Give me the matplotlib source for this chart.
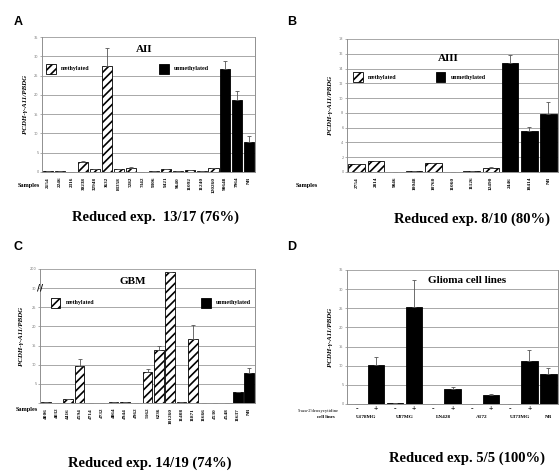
import numpy as np
import matplotlib
matplotlib.use("Agg")
import matplotlib.pyplot as plt
from matplotlib.patches import Rectangle

plt.rcParams['hatch.linewidth'] = 1.2
SERIF = 'Liberation Serif'

# Panel A - AII
a_labels = ["2154", "2246", "2316", "30238", "32948", "3632", "83358", "7282", "7342",
            "9306", "9421", "9640", "11092", "11240", "120260", "90648", "7964", "NB"]
a_vals = [0.3, 0.2, 0.1, 2.6, 0.8, 27.6, 0.9, 1.1, 0.0,
          0.2, 0.8, 0.3, 0.5, 0.3, 1.0, 26.6, 18.6, 7.8]
a_err = [0, 0, 0, 0.2, 0, 4.5, 0, 0.2, 0,
         0, 0, 0, 0, 0, 0.1, 2.2, 2.4, 1.5]
a_meth = [1] * 15 + [0] * 3

# Panel B - AIII
b_labels = ["2754", "2814", "9846", "10048", "10760", "11060", "11126", "12490",
            "2446", "10414", "NB"]
b_vals = [1.08, 1.44, 0.05, 0.15, 1.17, 0.05, 0.1, 0.6, 14.7, 5.6, 7.8]
b_err = [0, 0, 0, 0, 0, 0, 0, 0.1, 1.1, 0.5, 1.65]
b_meth = [1] * 8 + [0] * 3

# Panel C - GBM
c_labels = ["4006", "4032", "4416", "4594", "4714", "4732", "4864", "4944", "4962",
            "5162", "6236", "101260", "11408", "11871", "11666", "4530", "4548",
            "11637", "NB"]
c_vals = [0.2, 0.0, 1.0, 9.7, 0.0, 0.1, 0.2, 0.2, 0.1,
          8.2, 13.8, 175, 0.3, 16.6, 0.0, 0.1, 0.0, 3.0, 7.8]
c_err = [0, 0, 0, 1.7, 0, 0, 0, 0, 0,
         0.6, 1.1, 0, 0, 3.8, 0, 0, 0, 0, 1.4]
c_meth = [1] * 17 + [0] * 2

# Panel D - glioma cell lines, -/+ 5-aza-2'deoxycytidine
d_lines = ["U178MG", "U87MG", "LN428", "A172", "U373MG"]
d_treat = ["-", "+", "-", "+", "-", "+", "-", "+", "-", "+", ""]
d_vals = [0.1, 10.15, 0.15, 25.4, 0.0, 4.0, 0.0, 2.45, 0.0, 11.3, 7.8]
d_err = [0, 2.2, 0, 7.1, 0, 0.4, 0, 0.25, 0, 2.7, 1.5]

fig = plt.figure(figsize=(5.6, 4.72), dpi=100)


def frame(ax, ymax, step):
    ax.set_ylim(0, ymax)
    ax.set_yticks(np.arange(0, ymax + 0.01, step))
    ax.yaxis.grid(True, color='#a8a8a8', lw=0.7)
    ax.set_axisbelow(True)
    for s in ax.spines.values():
        s.set_color('#909090')
        s.set_linewidth(0.7)
    ax.spines['top'].set_visible(False)
    ax.tick_params(axis='y', labelsize=2.5, labelcolor='#777777', length=1.5,
                   width=0.5, color='#909090', pad=1)
    ax.tick_params(axis='x', length=0)
    ax.set_ylabel("PCDH-γ-A11/PBDG", fontsize=5, family=SERIF, style='italic',
                  fontweight='bold', labelpad=4)


def bars(ax, labels, vals, err, meth):
    x = np.arange(len(labels))
    for i in x:
        if meth[i]:
            ax.bar(i, vals[i], 0.86, color='white', edgecolor='black', hatch='////',
                   linewidth=0.6)
        else:
            ax.bar(i, vals[i], 0.86, color='black', edgecolor='black', linewidth=0.6)
    ax.errorbar(x, vals, yerr=[np.zeros(len(err)), err], fmt='none', ecolor='#555555',
                elinewidth=0.6, capsize=1.2, capthick=0.6)
    ax.set_xlim(-0.5, len(labels) - 0.5)
    ax.set_xticks(x)
    ax.set_xticklabels(labels, rotation=90, fontsize=3.8, family=SERIF,
                       fontweight='bold')


def legend(ax, x1, x2, y):
    ax.add_patch(Rectangle((x1, y - 0.035), 0.045, 0.075, transform=ax.transAxes,
                           facecolor='white', edgecolor='black', hatch='////', lw=0.6))
    ax.text(x1 + 0.07, y, "methylated", transform=ax.transAxes, fontsize=4.3,
            family=SERIF, fontweight='bold', va='center')
    ax.add_patch(Rectangle((x2, y - 0.035), 0.045, 0.075, transform=ax.transAxes,
                           facecolor='black', edgecolor='black', lw=0.6))
    ax.text(x2 + 0.07, y, "unmethylated", transform=ax.transAxes, fontsize=4.3,
            family=SERIF, fontweight='bold', va='center')


# A
axA = fig.add_axes([0.075, 0.6356, 0.380, 0.286])
frame(axA, 35, 5)
bars(axA, a_labels, a_vals, a_err, a_meth)
axA.text(0.48, 0.91, "AII", transform=axA.transAxes, ha='center', va='center',
         fontsize=8, family=SERIF, fontweight='bold')
legend(axA, 0.02, 0.55, 0.763)

# B
axB = fig.add_axes([0.6196, 0.6356, 0.377, 0.2818])
frame(axB, 18, 2)
bars(axB, b_labels, b_vals, b_err, b_meth)
axB.text(0.48, 0.857, "AIII", transform=axB.transAxes, ha='center', va='center',
         fontsize=8, family=SERIF, fontweight='bold')
legend(axB, 0.03, 0.42, 0.714)

# C with broken axis above 30
def fwd(v):
    v = np.asarray(v, dtype=float)
    return np.where(v <= 30, v, 30 + (v - 30) * 5 / 170)


def inv(d):
    d = np.asarray(d, dtype=float)
    return np.where(d <= 30, d, 30 + (d - 30) * 170 / 5)


axC = fig.add_axes([0.0714, 0.1462, 0.384, 0.284])
frame(axC, 35, 5)
axC.set_yscale('function', functions=(fwd, inv))
axC.set_ylim(0, 200)
axC.set_yticks([0, 5, 10, 15, 20, 25, 30, 200])
axC.set_yticklabels(["", "5", "10", "15", "20", "25", "30", "200"])
bars(axC, c_labels, c_vals, c_err, c_meth)
axC.text(0.0, 30, "//", transform=axC.get_yaxis_transform(), ha='center',
         va='center', fontsize=6, fontweight='bold')
axC.text(0.43, 0.91, "GBM", transform=axC.transAxes, ha='center', va='center',
         fontsize=8, family=SERIF, fontweight='bold')
legend(axC, 0.05, 0.75, 0.746)

# D
axD = fig.add_axes([0.6196, 0.1441, 0.377, 0.284])
frame(axD, 35, 5)
bars(axD, d_treat, d_vals, d_err, [0] * len(d_vals))
axD.set_xticklabels(d_treat, rotation=0, fontsize=5.5, family=SERIF, fontweight='bold')
axD.tick_params(axis='x', pad=1)
for k, name in enumerate(d_lines):
    axD.text(2 * k + 0.5, -0.1, name, transform=axD.get_xaxis_transform(),
             ha='center', va='center', fontsize=3.8, family=SERIF, fontweight='bold')
axD.text(10, -0.1, "NB", transform=axD.get_xaxis_transform(), ha='center',
         va='center', fontsize=3.8, family=SERIF, fontweight='bold')
axD.text(-0.04, -0.05, "5-aza-2'deoxycytidine", transform=axD.transAxes, ha='right',
         va='center', fontsize=3.3, family=SERIF)
axD.text(-0.06, -0.1, "cell lines", transform=axD.transAxes, ha='right',
         va='center', fontsize=3.5, family=SERIF, fontweight='bold')
axD.text(0.57, 0.918, "Glioma cell lines", transform=axD.transAxes, ha='center',
         va='center', fontsize=8, family=SERIF, fontweight='bold')

# Samples labels and panel letters
for xs, ys in [(29, 186), (307, 186), (27, 410)]:
    fig.text(xs / 560, 1 - ys / 472, "Samples", ha='center', va='center', fontsize=4.5,
             family=SERIF, fontweight='bold')

for lt, xs, ys in [("A", 18, 22), ("B", 292, 22), ("C", 18, 247), ("D", 292, 247)]:
    fig.text(xs / 560, 1 - ys / 472, lt, ha='center', va='center', fontsize=9,
             family='Liberation Sans', fontweight='bold')

for txt, xs, ys in [("Reduced exp.  13/17 (76%)", 155, 217),
                    ("Reduced exp. 8/10 (80%)", 472, 219),
                    ("Reduced exp. 14/19 (74%)", 150, 463),
                    ("Reduced exp. 5/5 (100%)", 467, 458)]:
    fig.text(xs / 560, 1 - ys / 472, txt, ha='center', va='center', fontsize=10.5,
             family=SERIF, fontweight='bold')

fig.savefig("out.png", dpi=100)
